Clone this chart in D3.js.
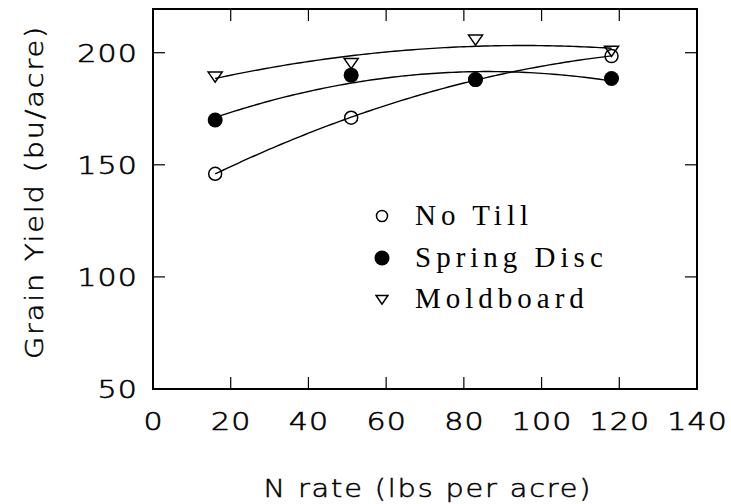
<!DOCTYPE html>
<html>
<head>
<meta charset="utf-8">
<script src="https://cdn.jsdelivr.net/npm/d3@7"></script>
<style>
  body { margin: 0; background: #fff; }
  svg { display: block; }
  .tick-label { font-family: "DejaVu Sans", sans-serif; font-weight: 200; font-size: 25px; letter-spacing: 1px; fill: #000; stroke: #000; stroke-width: 0.6px; }
  .axis-title { font-family: "DejaVu Sans", sans-serif; font-weight: 200; font-size: 25px; letter-spacing: 1.6px; fill: #000; stroke: #000; stroke-width: 0.5px; }
  .legend-text { font-family: "Liberation Serif", serif; font-size: 29px; letter-spacing: 5px; fill: #000; }
</style>
</head>
<body>
<div id="chart"></div>
<script>
// N rate (lbs per acre)
const nRates = [16, 51, 83, 118];
// grain yield (bu/acre) for each tillage system
const noTill = [146, 171, 188, 198.5];
const springDisc = [170, 190, 188, 188.5];
const moldboard = [189.5, 195.5, 206, 201];

const xTicks = [0, 20, 40, 60, 80, 100, 120, 140];
const yTicks = [50, 100, 150, 200];

const series = [
  { name: "No Till", values: noTill, symbol: "open" },
  { name: "Spring Disc", values: springDisc, symbol: "filled" },
  { name: "Moldboard", values: moldboard, symbol: "tri" }
];

const width = 731, height = 504;
const margin = { left: 153, right: 34, top: 9, bottom: 115 };

const svg = d3.select("#chart").append("svg")
    .attr("width", width)
    .attr("height", height);

const x = d3.scaleLinear().domain([0, 140]).range([margin.left, width - margin.right]);
const y = d3.scaleLinear().domain([50, 219.5]).range([height - margin.bottom, margin.top]);

// frame
svg.append("rect")
    .attr("x", x(0)).attr("y", y(219.5))
    .attr("width", x(140) - x(0)).attr("height", y(50) - y(219.5))
    .attr("fill", "none").attr("stroke", "#000").attr("stroke-width", 2);

const tickLen = 12;

// inward ticks on all four sides
xTicks.slice(1, -1).forEach(t => {
  svg.append("line").attr("x1", x(t)).attr("x2", x(t))
      .attr("y1", y(50)).attr("y2", y(50) - tickLen)
      .attr("stroke", "#000").attr("stroke-width", 1.2);
  svg.append("line").attr("x1", x(t)).attr("x2", x(t))
      .attr("y1", y(219.5)).attr("y2", y(219.5) + tickLen)
      .attr("stroke", "#000").attr("stroke-width", 1.2);
});
yTicks.slice(1).forEach(t => {
  svg.append("line").attr("x1", x(0)).attr("x2", x(0) + tickLen)
      .attr("y1", y(t)).attr("y2", y(t))
      .attr("stroke", "#000").attr("stroke-width", 1.2);
  svg.append("line").attr("x1", x(140)).attr("x2", x(140) - tickLen)
      .attr("y1", y(t)).attr("y2", y(t))
      .attr("stroke", "#000").attr("stroke-width", 1.2);
});

// tick labels, stretched a bit wider like the plotter font
svg.selectAll(".xlab").data(xTicks).enter().append("text")
    .attr("class", "tick-label")
    .attr("transform", d => `translate(${x(d) + 0.6},${y(50) + 41}) scale(1.2,1)`)
    .attr("text-anchor", "middle")
    .text(d => d);

svg.selectAll(".ylab").data(yTicks).enter().append("text")
    .attr("class", "tick-label")
    .attr("transform", d => `translate(${x(0) - 15},${y(d) + 9}) scale(1.2,1)`)
    .attr("text-anchor", "end")
    .text(d => d);

// axis titles
svg.append("text")
    .attr("class", "axis-title")
    .attr("transform", "translate(428,497) scale(1.15,1)")
    .attr("text-anchor", "middle")
    .text("N rate (lbs per acre)");

svg.append("text")
    .attr("class", "axis-title")
    .attr("transform", "translate(43,192) rotate(-90) scale(1.15,1)")
    .attr("text-anchor", "middle")
    .text("Grain Yield (bu/acre)");

// quadratic least-squares fit
function quadFit(xs, ys) {
  const n = xs.length;
  let s = [0, 0, 0, 0, 0], t = [0, 0, 0];
  for (let i = 0; i < n; i++) {
    for (let k = 0; k < 5; k++) s[k] += Math.pow(xs[i], k);
    for (let k = 0; k < 3; k++) t[k] += ys[i] * Math.pow(xs[i], k);
  }
  const A = [[s[0], s[1], s[2], t[0]], [s[1], s[2], s[3], t[1]], [s[2], s[3], s[4], t[2]]];
  for (let i = 0; i < 3; i++) {
    for (let j = i + 1; j < 3; j++) {
      const f = A[j][i] / A[i][i];
      for (let k = i; k < 4; k++) A[j][k] -= f * A[i][k];
    }
  }
  const c = [0, 0, 0];
  for (let i = 2; i >= 0; i--) {
    let v = A[i][3];
    for (let k = i + 1; k < 3; k++) v -= A[i][k] * c[k];
    c[i] = v / A[i][i];
  }
  return xv => c[0] + c[1] * xv + c[2] * xv * xv;
}

const line = d3.line().x(d => x(d[0])).y(d => y(d[1]));

series.forEach(s => {
  const f = quadFit(nRates, s.values);
  const pts = d3.range(nRates[0], nRates[nRates.length - 1] + 0.01, 1).map(v => [v, f(v)]);
  svg.append("path")
      .datum(pts)
      .attr("d", line)
      .attr("fill", "none")
      .attr("stroke", "#000")
      .attr("stroke-width", 1.4);
});

function drawSymbol(g, kind, cx, cy, scale) {
  if (kind === "open") {
    g.append("circle").attr("cx", cx).attr("cy", cy).attr("r", 6.5 * scale)
        .attr("fill", "none").attr("stroke", "#000").attr("stroke-width", 1.5);
  } else if (kind === "filled") {
    g.append("circle").attr("cx", cx).attr("cy", cy).attr("r", 7.5 * scale)
        .attr("fill", "#000");
  } else {
    const r = 7 * scale;
    g.append("path")
        .attr("d", `M${cx - r},${cy - r * 0.6}L${cx + r},${cy - r * 0.6}L${cx},${cy + r * 0.85}Z`)
        .attr("fill", "none").attr("stroke", "#000").attr("stroke-width", 1.5);
  }
}

// markers
series.forEach(s => {
  const g = svg.append("g");
  s.values.forEach((v, i) => drawSymbol(g, s.symbol, x(nRates[i]), y(v), 1));
});

// legend
const legY = [216, 258, 299];
series.forEach((s, i) => {
  const g = svg.append("g");
  drawSymbol(g, s.symbol, 382, legY[i], i === 1 ? 1 : 0.85);
  g.append("text")
      .attr("class", "legend-text")
      .attr("x", 415).attr("y", legY[i] + 9)
      .text(s.name);
});
</script>
</body>
</html>
